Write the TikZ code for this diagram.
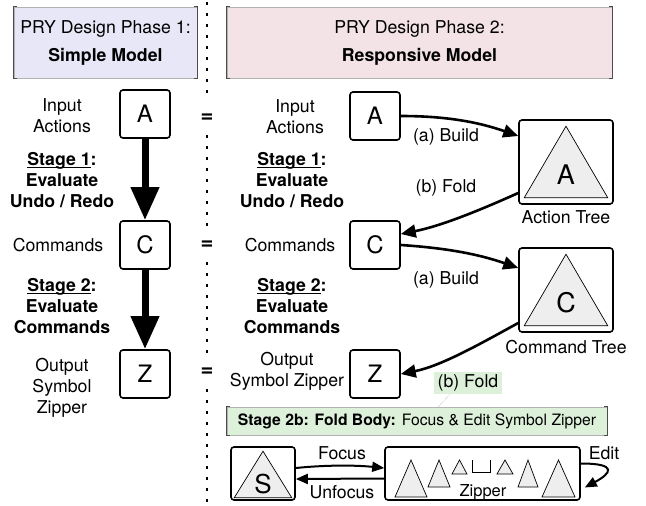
\documentclass[tikz,border=0pt]{standalone}
\usepackage{fontspec}
\setmainfont{TeX Gyre Heros}
\usetikzlibrary{arrows.meta,positioning}

\definecolor{phaseone}{HTML}{E7E7F8}
\definecolor{phasetwo}{HTML}{F3E3E7}
\definecolor{foldgreen}{HTML}{DDF0DA}
\definecolor{treegray}{HTML}{EEEEEE}

\newcommand{\lblfont}{\fontsize{17.7}{21}\selectfont}
% underline sitting close to the baseline
\newcommand{\stageul}[1]{\setbox0\hbox{#1}\rlap{\rule[-2.5pt]{\wd0}{1.3pt}}\box0}

\begin{document}
\begin{tikzpicture}[x=1pt,y=-1pt,
	lbl/.style={align=center,font=\lblfont,inner sep=1pt},
	stagetxt/.style={lbl,font=\lblfont\bfseries},
	phasebox/.style={draw=black!30,line width=0.5pt,minimum height=71pt,align=center,
		font=\fontsize{17.7}{28}\selectfont},
	rimline/.style={black!70,line width=1pt},
	symbox/.style={draw,line width=1.6pt,rounded corners=3pt,minimum width=50pt,
		minimum height=48pt,inner sep=0pt,font=\fontsize{24}{24}\selectfont},
	treebox/.style={draw,line width=1.6pt,rounded corners=3pt,minimum width=94pt,
		minimum height=84pt,inner sep=0pt},
	trishape/.style={draw,fill=treegray,line width=0.7pt,line join=miter},
	letter/.style={inner sep=0pt,font=\fontsize{27}{27}\selectfont},
	eqsign/.style={inner sep=0pt,minimum height=34pt,font=\fontsize{22}{22}\selectfont\bfseries},
	sepline/.style={line width=2pt,dash pattern=on 3pt off 8pt},
	stagearrow/.style={line width=7pt,-{Triangle[length=33pt,width=27pt]}},
	flowarrow/.style={line width=2.6pt,-{Triangle[length=15pt,width=13pt]}},
	swaparrow/.style={line width=2pt,-{Triangle[length=12pt,width=10pt]}},
	foldtag/.style={fill=foldgreen,inner xsep=4pt,inner ysep=2.5pt,font=\lblfont},
	]
	\useasboundingbox (0,0) rectangle (646,506);

	%phase headers
	\node[phasebox,fill=phaseone,minimum width=183pt] (ph1) at (105.5,42.5) {PRY Design Phase 1:\\\textbf{Simple Model}};
	\node[phasebox,fill=phasetwo,minimum width=385pt] (ph2) at (419.5,42.5) {PRY Design Phase 2:\\\textbf{Responsive Model}};

	%equal signs and the dotted divider
	\node[eqsign] (eq1) at (207,118) {=};
	\node[eqsign] (eq2) at (207,245) {=};
	\node[eqsign] (eq3) at (207,372) {=};
	\coordinate (divtop) at (207,2);
	\coordinate (divbot) at (207,506);
	\draw[sepline] (divtop) -- (eq1);
	\draw[sepline] (eq1) -- (eq2);
	\draw[sepline] (eq2) -- (eq3);
	\draw[sepline] (eq3) -- (divbot);

	%simple model
	\node[symbox] (al) at (145,114) {A};
	\node[symbox] (cl) at (145,245) {C};
	\node[symbox] (zl) at (145,374) {Z};
	\draw[stagearrow] (al) -- (cl);
	\draw[stagearrow] (cl) -- (zl);

	\node[lbl] (inl) at (62,116) {Input\\Actions};
	\node[stagetxt] (s1l) at (62,180) {\stageul{Stage 1}:\\Evaluate\\Undo / Redo};
	\node[lbl] (cml) at (58,245) {Commands};
	\node[stagetxt] (s2l) at (62,306) {\stageul{Stage 2}:\\Evaluate\\Commands};
	\node[lbl] (outl) at (62,388) {Output\\Symbol\\Zipper};

	%responsive model
	\node[lbl] (inr) at (295,117) {Input\\Actions};
	\node[symbox] (ar) at (375,116) {A};
	\node[stagetxt] (s1r) at (292,180) {\stageul{Stage 1}:\\Evaluate\\Undo / Redo};
	\node[lbl] (cmr) at (290,245) {Commands};
	\node[symbox] (cr) at (375,245) {C};
	\node[stagetxt] (s2r) at (292,306) {\stageul{Stage 2}:\\Evaluate\\Commands};
	\node[lbl] (outr) at (287,371) {Output\\Symbol Zipper};
	\node[symbox] (zr) at (375,374) {Z};

	%trees
	\node[treebox] (at) at (566,162) {};
	\draw[trishape] ([yshift=-7pt]at.north) -- ([xshift=6pt,yshift=7pt]at.south west) -- ([xshift=-6pt,yshift=7pt]at.south east) -- cycle;
	\node[letter] (atl) at (566,175) {A};
	\node[lbl,below=5pt of at] (atlbl) {Action Tree};

	\node[treebox] (ct) at (566,290) {};
	\draw[trishape] ([yshift=-7pt]ct.north) -- ([xshift=6pt,yshift=7pt]ct.south west) -- ([xshift=-6pt,yshift=7pt]ct.south east) -- cycle;
	\node[letter] (ctl) at (566,303) {C};
	\node[lbl,below=6pt of ct] (ctlbl) {Command Tree};

	%build and fold
	\draw[flowarrow] (ar.east) .. controls +(45,0) and +(-40,-14) .. ([yshift=26pt]at.west);
	\draw[flowarrow] ([yshift=-31pt]at.west) .. controls +(-40,18) and +(40,-8) .. ([yshift=11pt]cr.east);
	\draw[flowarrow] (cr.east) .. controls +(45,3) and +(-40,-14) .. ([yshift=22pt]ct.west);
	\draw[flowarrow] ([yshift=-33pt]ct.west) .. controls +(-40,22) and +(40,-8) .. (zr.east);
	\node[lbl] (b1) at (446,137) {(a) Build};
	\node[lbl] (f1) at (446,188) {(b) Fold};
	\node[lbl] (b2) at (446,280) {(a) Build};
	\node[foldtag] (fold2) at (468,383) {(b) Fold};

	%fold body
	\node[draw=black!30,line width=0.5pt,fill=foldgreen,minimum width=380pt,minimum height=28pt,
		font=\fontsize{15.7}{18}\selectfont] (stg) at (417,421) {\textbf{Stage 2b: Fold Body:} Focus \& Edit Symbol Zipper};
	\draw[gray,densely dotted,thin] ([xshift=-18pt]fold2.south) -- ([xshift=21pt]stg.north);

	\foreach \b in {ph1,ph2,stg}
	{
		\draw[rimline] ([xshift=3pt]\b.north west) -- (\b.north west) -- (\b.south west) -- ([xshift=3pt]\b.south west);
		\draw[rimline] ([xshift=-3pt]\b.north east) -- (\b.north east) -- (\b.south east) -- ([xshift=-3pt]\b.south east);
	}

	\node[symbox,minimum width=64pt,minimum height=53pt] (sb) at (263,473.5) {};
	\draw[trishape] ([yshift=-5pt]sb.north) -- ([xshift=4pt,yshift=3pt]sb.south west) -- ([xshift=-4pt,yshift=3pt]sb.south east) -- cycle;
	\node[letter,font=\fontsize{26}{26}\selectfont] (sl) at (263,484) {S};

	\node[symbox,minimum width=195pt,minimum height=53pt] (zip) at (482.5,473.5) {};
	\foreach \x/\w/\h in {411/16/37,439/11/27,459.5/7.5/14,505/8/14,528/10/27,558.5/16.5/37}
		\draw[trishape] (\x,460) -- ++(-\w,\h) -- ++(2*\w,0) -- cycle;
	\draw[line width=1pt] (472,460) -- (472,472) -- (490,472) -- (490,460);
	\node[inner sep=0pt,font=\fontsize{16.5}{16.5}\selectfont] (ziplbl) at (483,492) {Zipper};

	\draw[swaparrow] ([yshift=5.5pt]sb.east) .. controls +(30,-3) and +(-30,-3) .. ([yshift=5.5pt]zip.west);
	\draw[swaparrow] ([yshift=-5pt]zip.west) -- ([yshift=-5.5pt]sb.east);
	\coordinate (editend) at ([xshift=4pt,yshift=-14pt]zip.east);
	\draw[swaparrow] ([yshift=10pt]zip.east) .. controls +(38,0) and +(26,-14) .. (editend);
	\node[lbl] (foc) at (342,453) {Focus};
	\node[lbl] (unf) at (342,492) {Unfocus};
	\node[lbl] (edt) at (604,453) {Edit};
\end{tikzpicture}
\end{document}
